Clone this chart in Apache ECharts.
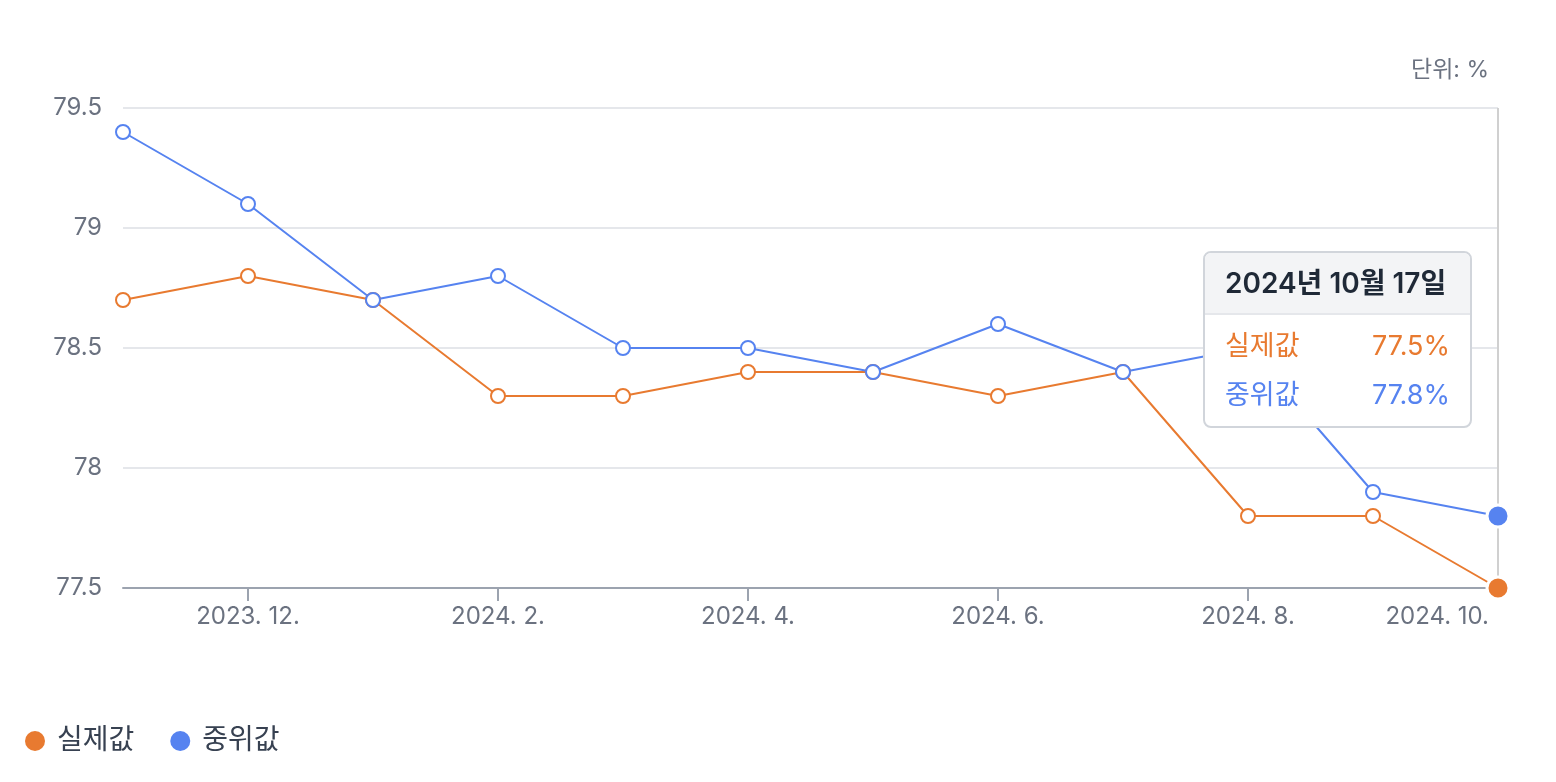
<!DOCTYPE html>
<html><head><meta charset="utf-8">
<script src="https://cdn.jsdelivr.net/npm/echarts@6/dist/echarts.min.js"></script>
<style>html,body{margin:0;padding:0;background:#fff}#c{width:1556px;height:782px}</style>
</head><body><div id="c"></div>
<script>
const categories = ['2023. 11.', '2023. 12.', '2024. 1.', '2024. 2.', '2024. 3.', '2024. 4.', '2024. 5.', '2024. 6.', '2024. 7.', '2024. 8.', '2024. 9.', '2024. 10.'];
const actualValues = [78.7, 78.8, 78.7, 78.3, 78.3, 78.4, 78.4, 78.3, 78.4, 77.8, 77.8, 77.5];
const medianValues = [79.4, 79.1, 78.7, 78.8, 78.5, 78.5, 78.4, 78.6, 78.4, 78.5, 77.9, 77.8];
const seriesNames = ['실제값', '중위값'];
const tooltipTitle = '2024년 10월 17일';
const unitLabel = '단위: %';
const yMin = 77.5, yMax = 79.5, yStep = 0.5;

const ORANGE = '#E87A30', BLUE = '#5683F0';
const FONT = "Inter, 'Noto Sans CJK KR', sans-serif";
const last = categories.length - 1;

function mk(vals, color) {
  return vals.map((v, i) => i === last ? {
    value: v, symbol: 'circle', symbolSize: 20,
    itemStyle: { color: color, borderColor: '#fff', borderWidth: 3 }
  } : v);
}

const chart = echarts.init(document.getElementById('c'), null, { renderer: 'canvas' });
chart.setOption({
  animation: false,
  textStyle: { fontFamily: FONT },
  title: {
    text: unitLabel, right: 62, top: 54,
    textStyle: { fontSize: 23, fontWeight: 'normal', color: '#6b7280', fontFamily: FONT }
  },
  grid: { left: 123, right: 58, top: 108, bottom: 194, containLabel: false },
  legend: {
    left: 20, top: 722, icon: 'circle', itemWidth: 20, itemHeight: 20, itemGap: 36,
    textStyle: { fontSize: 28, color: '#374151', fontFamily: FONT, padding: [0, 0, 0, 7] },
    data: [
      { name: seriesNames[0], itemStyle: { color: ORANGE, borderWidth: 0 } },
      { name: seriesNames[1], itemStyle: { color: BLUE, borderWidth: 0 } }
    ]
  },
  tooltip: {
    trigger: 'axis', alwaysShowContent: true, showContent: true, transitionDuration: 0,
    position: [1203, 251], padding: 0, borderWidth: 2, borderColor: '#d1d5db', backgroundColor: '#fff',
    extraCssText: 'width:269px;box-sizing:border-box;overflow:hidden;box-shadow:none;border-radius:8px;',
    axisPointer: { type: 'line', z: 1, triggerEmphasis: false, lineStyle: { color: '#d0d0d0', width: 2, type: 'solid' }, label: { show: false } },
    formatter: function (params) {
      let rows = params.map(p => {
        const c = p.seriesIndex === 0 ? ORANGE : BLUE;
        return '<div style="display:flex;justify-content:space-between;height:49px;line-height:49px;color:' + c + ';font-size:27px;">' +
          '<span>' + p.seriesName + '</span><span>' + p.value + '%</span></div>';
      }).join('');
      return '<div style="font-family:' + FONT.replace(/"/g, '') + '">' +
        '<div style="background:#f3f4f6;height:60px;line-height:60px;padding:0 20px;font-weight:600;font-size:28px;color:#1f2937;border-bottom:2px solid #e5e7eb;">' + tooltipTitle + '</div>' +
        '<div style="padding:6px 20px 7px 20px;">' + rows + '</div></div>';
    }
  },
  xAxis: {
    type: 'category', data: categories, boundaryGap: false,
    axisLine: { lineStyle: { color: '#9ca3af', width: 2 } },
    axisTick: { length: 13, lineStyle: { color: '#9ca3af', width: 2 }, interval: (i) => i % 2 === 1 && i !== last },
    axisLabel: {
      interval: (i) => i % 2 === 1, margin: 17, fontSize: 24, color: '#6b7280', fontFamily: FONT,
      alignMaxLabel: 'right',
      formatter: (v, i) => i === last ? '{r|' + v + '}' : v,
      rich: { r: { fontSize: 24, color: '#6b7280', fontFamily: FONT, padding: [0, 9, 0, 0] } }
    },
    splitLine: { show: false }
  },
  yAxis: {
    type: 'value', min: yMin, max: yMax, interval: yStep,
    axisLine: { show: false }, axisTick: { show: false },
    axisLabel: { margin: 21, fontSize: 24, color: '#6b7280', fontFamily: FONT },
    splitLine: { lineStyle: { color: '#e5e7eb', width: 2 } }
  },
  series: [
    {
      name: seriesNames[0], type: 'line', data: mk(actualValues, ORANGE), z: 10,
      symbol: 'circle', symbolSize: 14, showAllSymbol: true,
      lineStyle: { color: ORANGE, width: 2 },
      itemStyle: { color: '#fff', borderColor: ORANGE, borderWidth: 2 },
      emphasis: { disabled: true }
    },
    {
      name: seriesNames[1], type: 'line', data: mk(medianValues, BLUE), z: 10,
      symbol: 'circle', symbolSize: 14, showAllSymbol: true,
      lineStyle: { color: BLUE, width: 2 },
      itemStyle: { color: '#fff', borderColor: BLUE, borderWidth: 2 },
      emphasis: { disabled: true }
    }
  ]
});
chart.dispatchAction({ type: 'showTip', seriesIndex: 0, dataIndex: last });
</script></body></html>
